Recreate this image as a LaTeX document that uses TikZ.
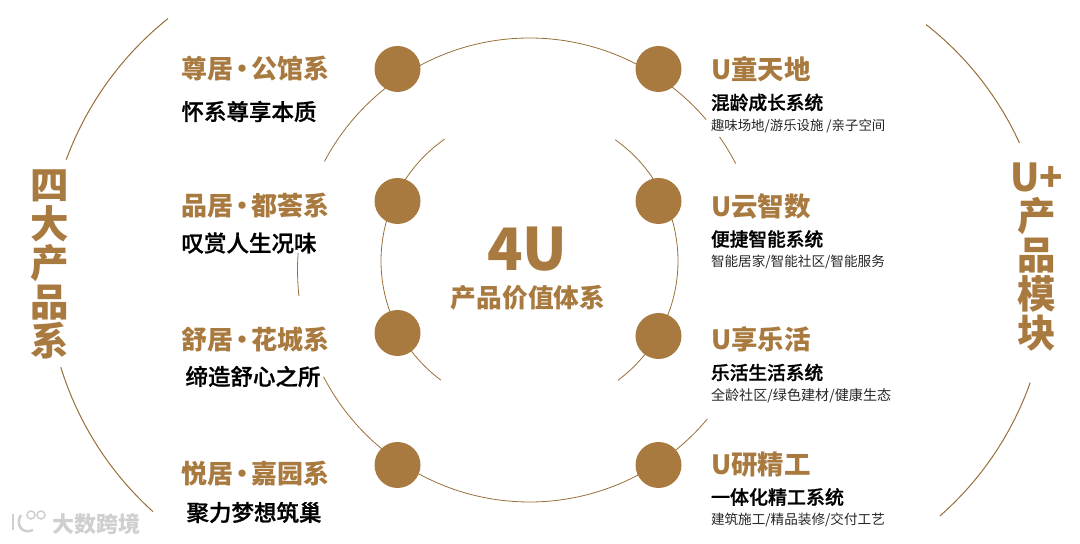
\documentclass[tikz,border=0pt]{standalone}
\usepackage{fontspec}
\setmainfont{Noto Sans CJK SC}
\newfontfamily\midfont[FakeBold=1]{Noto Sans CJK SC Medium}
\usetikzlibrary{positioning}
\definecolor{bronze}{HTML}{A97A3F}
\definecolor{markgray}{HTML}{CFCFCF}
\newcommand{\sepdot}{\kern-4pt·\kern-4pt}

\begin{document}
\begin{tikzpicture}[x=1pt, y=1pt,
  every node/.style={inner sep=0pt, outer sep=0pt},
  dot/.style={circle, fill=bronze, minimum size=46pt},
  ring/.style={draw=bronze!90!black, line width=0.8pt},
  headtext/.style={anchor=west, text=bronze, font=\fontsize{26}{26}\selectfont\bfseries},
  subtext/.style={anchor=west, text=black, font=\fontsize{22.5}{22.5}\selectfont\midfont},
  systext/.style={anchor=west, text=black, font=\fontsize{18.7}{18.7}\selectfont\midfont},
  smalltext/.style={anchor=west, text=black!85, font=\fontsize{13.6}{13.6}\selectfont},
  bigtext/.style={text=bronze, font=\fontsize{38.5}{39}\selectfont\bfseries}]
\useasboundingbox (0,0) rectangle (1080,544);

% rings behind everything
\draw[ring] (529.5,274) ++(152.1:232) arc[start angle=152.1, end angle=40.4, radius=232];
\draw[ring] (529.5,274) ++(35:232) arc[start angle=35, end angle=27.3, radius=232];
\draw[ring] (529.5,274) ++(175.8:232) arc[start angle=175.8, end angle=186.4, radius=232];
\draw[ring] (529.5,274) ++(207.4:232) arc[start angle=207.4, end angle=320, radius=232];
\draw[ring] (529.5,283) ++(124.8:148.5) arc[start angle=124.8, end angle=233.4, radius=148.5];
\draw[ring] (529.5,283) ++(54.7:148.5) arc[start angle=54.7, end angle=-53.5, radius=148.5];
\draw[ring, line width=1pt] (370,272.5) ++(128.6:323.7) arc[start angle=128.6, end angle=159.8, radius=323.7];
\draw[ring, line width=1pt] (370,272.5) ++(197.2:323.7) arc[start angle=197.2, end angle=227.9, radius=323.7];
\draw[ring, line width=1pt] (729,268) ++(51.9:319.5) arc[start angle=51.9, end angle=24.6, radius=319.5];
\draw[ring, line width=1pt] (729,268) ++(-19.5:319.5) arc[start angle=-19.5, end angle=-48.7, radius=319.5];

\node[dot] (dotA) at (397.5,475) {};
\node[dot] (dotB) at (397.5,343) {};
\node[dot] (dotC) at (397.5,211) {};
\node[dot] (dotD) at (397.5,79) {};
\node[dot] (dotE) at (658.5,475) {};
\node[dot] (dotF) at (658.5,343) {};
\node[dot] (dotG) at (658.5,208) {};
\node[dot] (dotH) at (658.5,79) {};

% left column
\node[headtext, left=216pt of dotA.center, anchor=west] (zunju) {尊居\sepdot 公馆系};
\node[subtext, below=42.5pt of zunju.west, anchor=west] (zunjusub) {怀系尊享本质};
\node[headtext, left=216pt of dotB.center, anchor=west, yshift=-5pt] (pinju) {品居\sepdot 都荟系};
\node[subtext, below=37pt of pinju.west, anchor=west] (pinjusub) {叹赏人生况味};
\node[headtext, left=216pt of dotC.center, anchor=west, yshift=-7pt] (shuju) {舒居\sepdot 花城系};
\node[subtext, below=36.5pt of shuju.west, xshift=4pt, anchor=west] (shujusub) {缔造舒心之所};
\node[headtext, left=216pt of dotD.center, anchor=west, yshift=-9pt] (yueju) {悦居\sepdot 嘉园系};
\node[subtext, below=38.5pt of yueju.west, xshift=5pt, anchor=west] (yuejusub) {聚力梦想筑巢};

% right column
\node[headtext, right=52.5pt of dotE.center, anchor=west, font=\fontsize{26.5}{26.5}\selectfont\bfseries] (utong) {U童天地};
\node[systext, below=33.5pt of utong.west, anchor=west] (utongsys) {混龄成长系统};
\node[smalltext, below=57pt of utong.west, anchor=west, font=\fontsize{13.4}{13.4}\selectfont] (utongitem) {趣味场地/游乐设施 /亲子空间};
\node[headtext, right=52.5pt of dotF.center, anchor=west, yshift=-5pt, font=\fontsize{26.5}{26.5}\selectfont\bfseries] (uyun) {U云智数};
\node[systext, below=33pt of uyun.west, anchor=west] (uyunsys) {便捷智能系统};
\node[smalltext, below=55.5pt of uyun.west, anchor=west] (uyunitem) {智能居家/智能社区/智能服务};
\node[headtext, right=52.5pt of dotG.center, anchor=west, yshift=-3.5pt, font=\fontsize{26.5}{26.5}\selectfont\bfseries] (uxiang) {U享乐活};
\node[systext, below=33pt of uxiang.west, anchor=west] (uxiangsys) {乐活生活系统};
\node[smalltext, below=56.5pt of uxiang.west, anchor=west, font=\fontsize{14.1}{14.1}\selectfont] (uxiangitem) {全龄社区/绿色建材/健康生态};
\node[headtext, right=52.5pt of dotH.center, anchor=west, font=\fontsize{26.5}{26.5}\selectfont\bfseries] (uyan) {U研精工};
\node[systext, below=32pt of uyan.west, anchor=west, font=\fontsize{19}{19}\selectfont\midfont] (uyansys) {一体化精工系统};
\node[smalltext, below=54.5pt of uyan.west, anchor=west] (uyanitem) {建筑施工/精品装修/交付工艺};

% centre
\node[text=bronze, font=\fontsize{58.5}{58.5}\selectfont\bfseries] (fouru) at (527.5,295) {4U};
\node[text=bronze, font=\fontsize{25.7}{25.7}\selectfont\bfseries] (valuesys) at (528,246) {产品价值体系};

% side titles
\node[bigtext, align=center] (fourlines) at (49.5,280) {四\\大\\产\\品\\系};
\node[bigtext, align=center] (uplus) at (1036.5,287) {U+\\产\\品\\模\\块};

% watermark
\node[text=markgray, font=\fontsize{22}{22}\selectfont\bfseries] (mark) at (96.5,20) {大数跨境};
\draw[markgray, line width=2.5pt] (13,30) -- (13,14);
\draw[markgray, line width=2.5pt] (21,29) .. controls (15,20) and (22,9) .. (33,14);
\draw[markgray, line width=1.5pt] (31,29) circle[radius=4];
\draw[markgray, line width=1.5pt] (41,29) circle[radius=4];
\end{tikzpicture}
\end{document}
